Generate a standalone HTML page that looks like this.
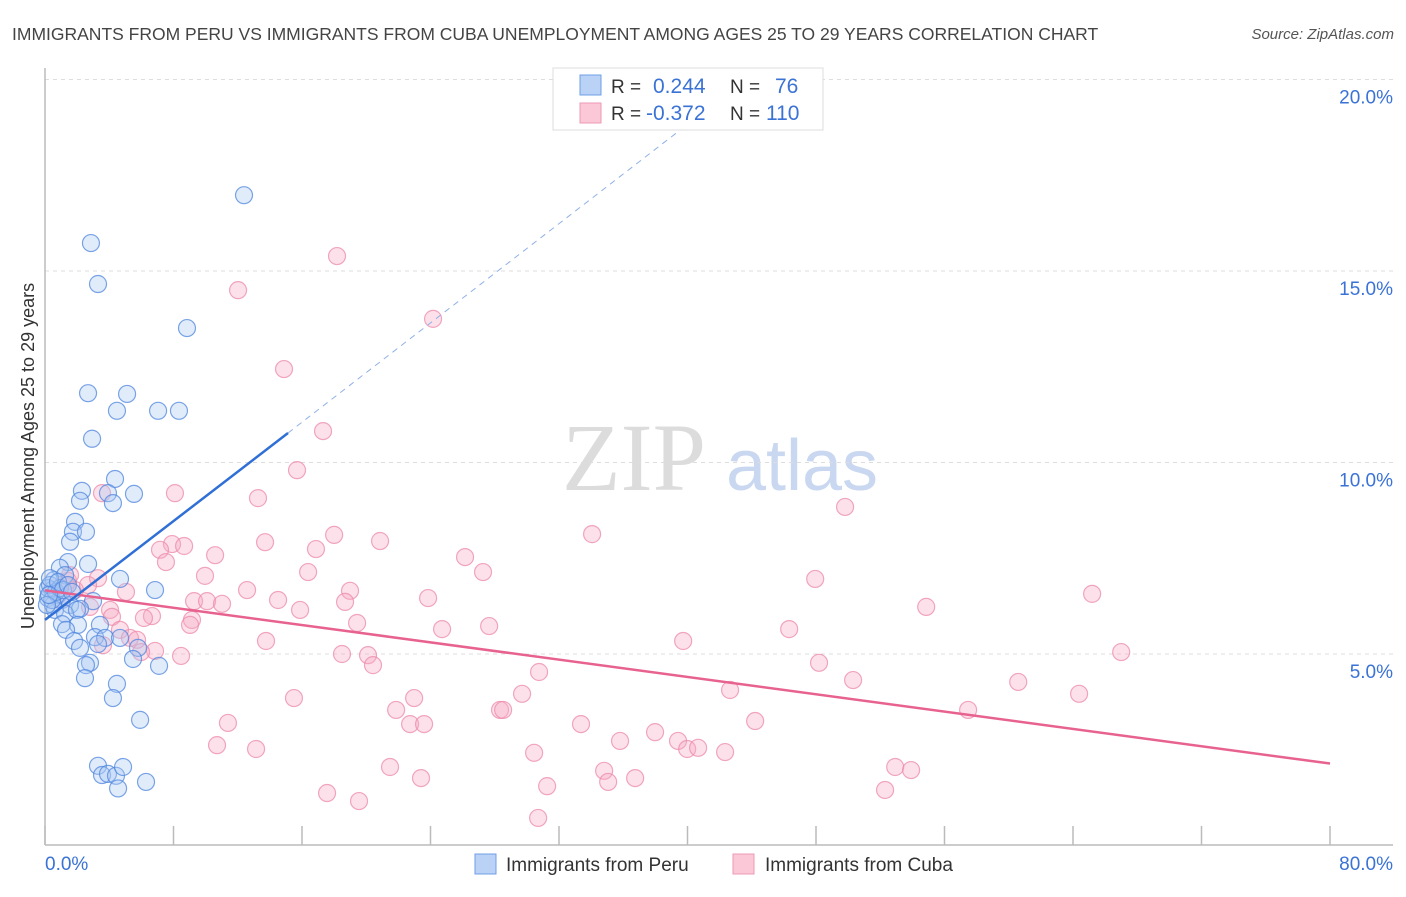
<!DOCTYPE html>
<html><head><meta charset="utf-8"><style>
body{margin:0;background:#fff;font-family:"Liberation Sans",sans-serif;}
svg text{font-family:"Liberation Sans",sans-serif;}
</style></head><body>
<svg id="chart" width="1406" height="892" viewBox="0 0 1406 892" xmlns="http://www.w3.org/2000/svg">
<text x="12" y="40" font-size="17.5" fill="#444">IMMIGRANTS FROM PERU VS IMMIGRANTS FROM CUBA UNEMPLOYMENT AMONG AGES 25 TO 29 YEARS CORRELATION CHART</text>
<text x="1394" y="39" font-size="15" fill="#555" font-style="italic" text-anchor="end">Source: ZipAtlas.com</text>
<g>
<text x="634" y="490" font-size="96" fill="#dcdcdc" font-family="Liberation Serif" text-anchor="middle" style="font-family:'Liberation Serif',serif">ZIP</text>
<text x="802" y="490" font-size="72" fill="#c9d8f0" text-anchor="middle">atlas</text>
</g>
<g id="grid"></g>
<g id="axes"></g>
<text transform="translate(34,456) rotate(-90)" font-size="18" fill="#333" text-anchor="middle">Unemployment Among Ages 25 to 29 years</text>
<g id="trend"></g>
<g id="points"></g>
<g>
<rect x="553" y="68" width="270" height="62" fill="#fff" stroke="#ddd"/>
<rect x="580" y="75" width="21" height="20" fill="#b9d2f5" stroke="#6f9fe6"/>
<rect x="580" y="103" width="21" height="20" fill="#fbc8d8" stroke="#ee9ab5"/>
<text x="611" y="93" font-size="19" fill="#333">R =</text>
<text x="653" y="93" font-size="21" fill="#3a72d6">0.244</text>
<text x="730" y="93" font-size="19" fill="#333">N =</text>
<text x="775" y="93" font-size="21" fill="#3a72d6">76</text>
<text x="611" y="120" font-size="19" fill="#333">R =</text>
<text x="646" y="120" font-size="21" fill="#3a72d6">-0.372</text>
<text x="730" y="120" font-size="19" fill="#333">N =</text>
<text x="766" y="120" font-size="21" fill="#3a72d6">110</text>
</g>
<g>
<rect x="475" y="854" width="21" height="20" fill="#b9d2f5" stroke="#6f9fe6"/>
<text x="506" y="871" font-size="19" fill="#333">Immigrants from Peru</text>
<rect x="733" y="854" width="21" height="20" fill="#fbc8d8" stroke="#ee9ab5"/>
<text x="765" y="871" font-size="19" fill="#333">Immigrants from Cuba</text>
</g>
</svg>
<script>
const xTicks=[0,8,16,24,32,40,48,56,64,72,80];
const yTicks=[5,10,15,20];
const yTickLabels=["5.0%","10.0%","15.0%","20.0%"];
const xEndLabels=["0.0%","80.0%"];
const peruX=[12.39,2.86,3.30,8.84,2.68,5.11,4.48,7.04,8.34,2.93,4.36,2.30,3.92,5.54,2.18,4.23,1.87,1.74,2.55,1.56,1.43,2.68,0.93,0.56,1.25,4.67,6.85,0.44,0.81,0.19,1.06,1.56,2.99,2.18,0.50,0.19,0.62,1.25,1.99,3.42,1.06,2.05,1.31,3.11,3.74,4.67,1.81,3.30,2.18,5.79,5.48,2.80,2.55,7.10,2.49,4.48,4.23,5.92,3.30,3.55,3.92,4.42,4.86,4.55,6.29,0.31,0.44,0.68,0.93,0.12,0.31,0.81,1.12,1.43,1.68,0.25];
const peruY=[16.98,15.73,14.66,13.51,11.81,11.79,11.35,11.35,11.35,10.62,9.57,9.26,9.20,9.18,9.00,8.94,8.45,8.19,8.19,7.93,7.40,7.35,7.25,6.93,7.06,6.96,6.67,6.67,6.54,6.46,6.41,6.28,6.38,6.18,6.28,6.72,6.15,6.05,6.15,5.76,5.78,5.76,5.63,5.44,5.42,5.42,5.34,5.26,5.16,5.16,4.87,4.77,4.71,4.69,4.37,4.22,3.85,3.28,2.08,1.84,1.87,1.82,2.05,1.49,1.66,6.80,6.41,6.62,6.72,6.28,6.98,6.88,6.67,6.80,6.62,6.54];
const cubaX=[18.18,12.02,24.16,14.88,17.31,15.69,3.55,8.09,13.26,49.81,34.06,18.00,20.86,13.70,7.91,8.66,7.16,16.87,10.59,26.15,7.53,16.38,27.27,9.96,3.30,47.95,1.43,18.99,12.58,5.04,65.19,23.85,14.51,9.28,10.09,18.68,11.02,54.86,15.88,2.80,4.05,6.66,6.16,4.17,9.15,19.43,9.03,27.65,24.72,46.33,4.67,39.73,13.76,5.29,5.73,3.61,6.85,5.98,8.47,18.49,20.11,20.42,48.19,67.00,30.76,50.31,60.59,42.65,64.38,29.70,15.50,22.98,21.86,28.33,28.52,57.47,11.39,22.73,23.60,33.37,44.21,37.98,35.80,39.41,39.98,40.66,10.71,13.14,42.34,30.45,21.48,52.93,34.81,53.92,23.41,36.74,35.06,31.26,17.56,52.30,19.55,30.70,1.31,1.87,2.68,0.93,1.56];
const cubaY=[15.39,14.50,13.75,12.44,10.82,9.80,9.20,9.20,9.07,8.84,8.13,8.11,7.95,7.92,7.87,7.82,7.72,7.74,7.58,7.53,7.40,7.14,7.14,7.04,6.98,6.96,6.91,6.65,6.67,6.62,6.57,6.46,6.41,6.38,6.38,6.36,6.31,6.23,6.15,6.23,6.15,5.99,5.94,5.97,5.89,5.81,5.76,5.73,5.65,5.65,5.63,5.34,5.34,5.42,5.37,5.23,5.08,5.05,4.95,5.00,4.97,4.71,4.77,5.05,4.53,4.32,4.27,4.06,3.96,3.96,3.85,3.85,3.54,3.54,3.54,3.54,3.20,3.17,3.17,3.17,3.25,2.96,2.73,2.73,2.52,2.55,2.62,2.52,2.44,2.42,2.05,2.05,1.95,1.97,1.76,1.76,1.66,1.55,1.37,1.45,1.16,0.72,6.80,6.67,6.80,6.41,7.06];
const peruTrend=[[0,5.89],[15.13,10.77]];
const peruTrendExt=[[15.13,10.77],[43,19.8]];
const cubaTrend=[[0,6.66],[80,2.14]];

const NS="http://www.w3.org/2000/svg";
const X0=45,X1=1330,Y0=845.5,YPX=38.3;
function sx(v){return X0+v*(X1-X0)/80;}
function sy(v){return Y0-v*YPX;}
function mk(tag,attrs,parent){const e=document.createElementNS(NS,tag);for(const k in attrs)e.setAttribute(k,attrs[k]);parent.appendChild(e);return e;}
const grid=document.getElementById('grid'),axes=document.getElementById('axes'),trend=document.getElementById('trend'),pts=document.getElementById('points');
yTicks.forEach((t,i)=>{
 const l=mk('line',{x1:X0,x2:1393,y1:sy(t),y2:sy(t),stroke:'#ddd','stroke-dasharray':'4,4'},grid);
 
 
 const tx=mk('text',{x:1393,y:sy(t)+24,'font-size':19,fill:'#3a72d6','text-anchor':'end'},axes);
 tx.textContent=yTickLabels[i];
 
 
});
let a=mk('line',{x1:X0,x2:X0,y1:68,y2:845,stroke:'#bbb','stroke-width':1.5},axes);


a=mk('line',{x1:X0,x2:1393,y1:845,y2:845,stroke:'#bbb','stroke-width':1.5},axes);


xTicks.forEach(t=>{
 const l=mk('line',{x1:sx(t),x2:sx(t),y1:826,y2:845,stroke:'#bbb','stroke-width':1.5},axes);
 
 
});
let t1=mk('text',{x:45,y:870,'font-size':19,fill:'#3a72d6'},axes);t1.textContent=xEndLabels[0];


let t2=mk('text',{x:1393,y:870,'font-size':19,fill:'#3a72d6','text-anchor':'end'},axes);t2.textContent=xEndLabels[1];


function dots(xs,ys,fill,stroke,name){
 xs.forEach((x,i)=>{
  const c=mk('circle',{cx:sx(x),cy:sy(ys[i]),r:8.5,fill:fill,'fill-opacity':0.35,stroke:stroke,'stroke-opacity':0.75,'stroke-width':1.2},pts);
  
  
 });
}
dots(cubaX,cubaY,'#f7a8c2','#ec8aab','cuba-point');
dots(peruX,peruY,'#a9c8f3','#4f86de','peru-point');
function ln(p,stroke,w,dash,name){
 const l=mk('line',{x1:sx(p[0][0]),y1:sy(p[0][1]),x2:sx(p[1][0]),y2:sy(p[1][1]),stroke:stroke,'stroke-width':w},trend);
 if(dash)l.setAttribute('stroke-dasharray',dash);
 
 
}
ln(cubaTrend,'#e8628f',2.5,null,'cuba-trend-line');
ln(peruTrend,'#2f6fd6',2.5,null,'peru-trend-line');
ln(peruTrendExt,'#8fb0e6',1,'6,5','peru-trend-extension');
trend.parentNode.insertBefore(trend,pts.nextSibling);
</script>
</body></html>
